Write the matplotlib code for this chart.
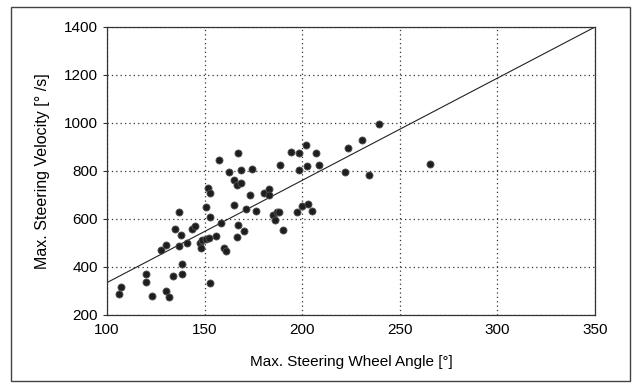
import matplotlib
matplotlib.use("Agg")
import matplotlib.pyplot as plt
from matplotlib.patches import Rectangle

# Max. steering wheel angle [deg] vs max. steering velocity [deg/s]
angle = [106.3, 107.1, 120.2, 120.2, 123.0, 127.5, 130.3, 130.3, 131.7, 134.0,
         134.8, 136.9, 137.1, 138.0, 138.2, 138.2, 141.1, 143.8, 145.1, 147.4,
         148.2, 148.8, 150.5, 150.9, 151.8, 152.6, 152.0, 153.0, 153.0, 155.9,
         157.6, 158.2, 160.1, 160.9, 162.4, 165.3, 165.3, 166.8, 168.4, 167.2,
         167.2, 166.8, 168.4, 170.3, 171.0, 173.1, 174.5, 176.2, 180.3, 182.8,
         182.8, 184.9, 186.0, 187.2, 188.3, 188.5, 190.2, 194.3, 197.2, 198.5,
         198.5, 199.8, 201.8, 202.3, 203.1, 205.0, 207.1, 208.5, 222.1, 223.3,
         230.8, 234.2, 239.4, 265.3]
velocity = [288, 315, 371, 339, 281, 471, 493, 302, 277, 364,
            560, 631, 486, 534, 413, 371, 499, 557, 571, 499,
            478, 513, 649, 518, 728, 708, 521, 609, 332, 528,
            844, 585, 478, 466, 797, 763, 657, 741, 749, 874,
            575, 524, 805, 550, 641, 699, 808, 634, 708, 724,
            701, 617, 594, 630, 630, 824, 555, 880, 631, 874,
            805, 656, 909, 822, 663, 634, 874, 824, 794, 895,
            930, 783, 997, 831]

# regression line end points
fit_x = [100, 350]
fit_y = [335, 1400]

x_ticks = [100, 150, 200, 250, 300, 350]
y_ticks = [200, 400, 600, 800, 1000, 1200, 1400]

plt.rcParams["font.family"] = ["Liberation Sans", "DejaVu Sans"]

fig = plt.figure(figsize=(6.4, 3.83), dpi=100)
ax = fig.add_axes([107 / 640, 68 / 383, 488 / 640, 288 / 383])

ax.plot(fit_x, fit_y, color="#222222", lw=0.8, zorder=2)
ax.scatter(angle, velocity, s=26, color="#1e1e1e", edgecolors="#555555",
           linewidths=0.6, zorder=3)

ax.set_xlim(100, 350)
ax.set_ylim(200, 1400)
ax.set_xticks(x_ticks)
ax.set_yticks(y_ticks)
ax.grid(True, color="#333333", linestyle=(0, (1, 2.5)), linewidth=0.9)
ax.tick_params(axis="both", labelsize=11, length=3, width=0.8, color="#333333")
ax.tick_params(axis="x", length=0, pad=6)
for s in ax.spines.values():
    s.set_linewidth(0.9)
    s.set_color("#333333")

ax.set_xlabel("Max. Steering Wheel Angle [°]", fontsize=11, labelpad=13)
ax.set_ylabel("Max. Steering Velocity [° /s]", fontsize=11.5, labelpad=10)

# outer frame around the whole figure
fig.patches.append(Rectangle((11 / 640, 2 / 383), 619 / 640, 374 / 383,
                             transform=fig.transFigure, fill=False,
                             edgecolor="#444444", linewidth=1.0))

fig.savefig("out.png", dpi=100)
plt.close(fig)
